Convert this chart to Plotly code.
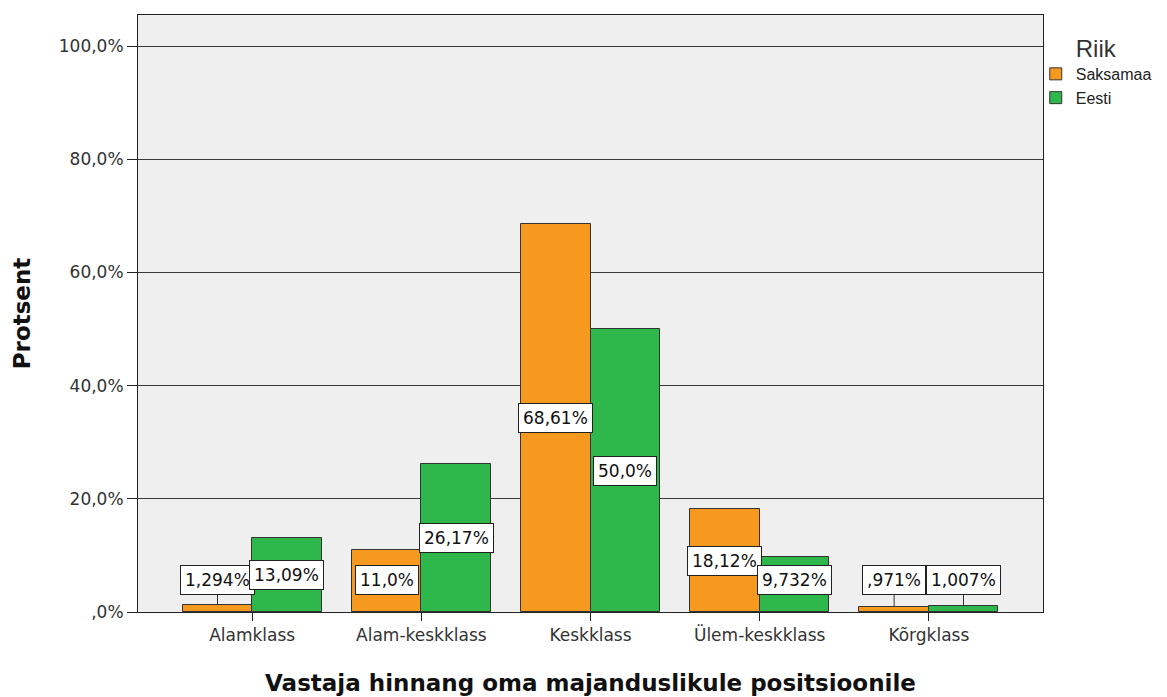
import plotly.graph_objects as go

categories = ["Alamklass", "Alam-keskklass", "Keskklass", "Ülem-keskklass", "Kõrgklass"]
saksamaa = [1.294, 11.0, 68.61, 18.12, 0.971]
eesti = [13.09, 26.17, 50.0, 9.732, 1.007]
saksamaa_labels = ["1,294%", "11,0%", "68,61%", "18,12%", ",971%"]
eesti_labels = ["13,09%", "26,17%", "50,0%", "9,732%", "1,007%"]
y_tickvals = [0, 20, 40, 60, 80, 100]
y_ticktext = [",0%", "20,0%", "40,0%", "60,0%", "80,0%", "100,0%"]

ORANGE = "#F7991E"
GREEN = "#2EB84B"
BAR_W = 0.41
xs = list(range(len(categories)))
FONT = "DejaVu Sans, Liberation Sans, Arial"

fig = go.Figure()
fig.add_trace(go.Bar(x=[i - BAR_W / 2 for i in xs], y=saksamaa, width=BAR_W, name="Saksamaa",
                     marker=dict(color=ORANGE, line=dict(color="#333333", width=1))))
fig.add_trace(go.Bar(x=[i + BAR_W / 2 for i in xs], y=eesti, width=BAR_W, name="Eesti",
                     marker=dict(color=GREEN, line=dict(color="#333333", width=1))))

MIN_LABEL_Y = 5.6
for vals, labels, off in ((saksamaa, saksamaa_labels, -BAR_W / 2), (eesti, eesti_labels, BAR_W / 2)):
    for i, (v, t) in enumerate(zip(vals, labels)):
        ly = max(v / 2, MIN_LABEL_Y)
        lifted = ly > v
        fig.add_annotation(
            x=i + off, y=v if lifted else ly,
            ax=i + off, ay=ly, axref="x", ayref="y",
            xref="x", yref="y",
            text=t, showarrow=lifted, arrowhead=0, arrowwidth=1, arrowcolor="#333333",
            standoff=0, startstandoff=0,
            font=dict(family=FONT, size=17, color="#111111"),
            bgcolor="white", bordercolor="#222222", borderwidth=1, borderpad=4,
        )

fig.update_layout(
    width=1159, height=689,
    margin=dict(l=130, r=124, t=7, b=85, autoexpand=False),
    paper_bgcolor="white", plot_bgcolor="#EFEFEF",
    barmode="overlay", bargap=0,
    font=dict(family=FONT, size=16, color="#333333"),
    legend=dict(
        title=dict(text="Riik", side="top center", font=dict(size=24, color="#333333")),
        x=0.992, xanchor="left", y=0.982, yanchor="top",
        font=dict(family="Liberation Sans, Arial", size=16, color="#222222"),
        itemwidth=30, tracegroupgap=0,
        bgcolor="rgba(0,0,0,0)",
    ),
    xaxis=dict(
        range=[-0.675, 4.675], tickvals=xs, ticktext=categories,
        ticks="outside", ticklen=8, tickcolor="#222222",
        showline=True, linecolor="#222222", linewidth=1, mirror=True,
        showgrid=False, zeroline=False, automargin=False,
        tickfont=dict(size=17, color="#333333"),
        title=dict(text="<b>Vastaja hinnang oma majanduslikule positsioonile</b>", standoff=30,
                   font=dict(family=FONT, size=23, color="#111111")),
    ),
    yaxis=dict(
        range=[0, 105.5], tickvals=y_tickvals, ticktext=y_ticktext,
        ticks="outside", ticklen=10, tickcolor="#222222",
        showline=True, linecolor="#222222", linewidth=1, mirror=True,
        showgrid=True, gridcolor="#3a3a3a", gridwidth=1, zeroline=False, automargin=False,
        tickfont=dict(size=17, color="#333333"),
        title=dict(text="<b>Protsent</b>", standoff=21,
                   font=dict(family=FONT, size=23, color="#111111")),
    ),
)

fig.write_html("out.html")
